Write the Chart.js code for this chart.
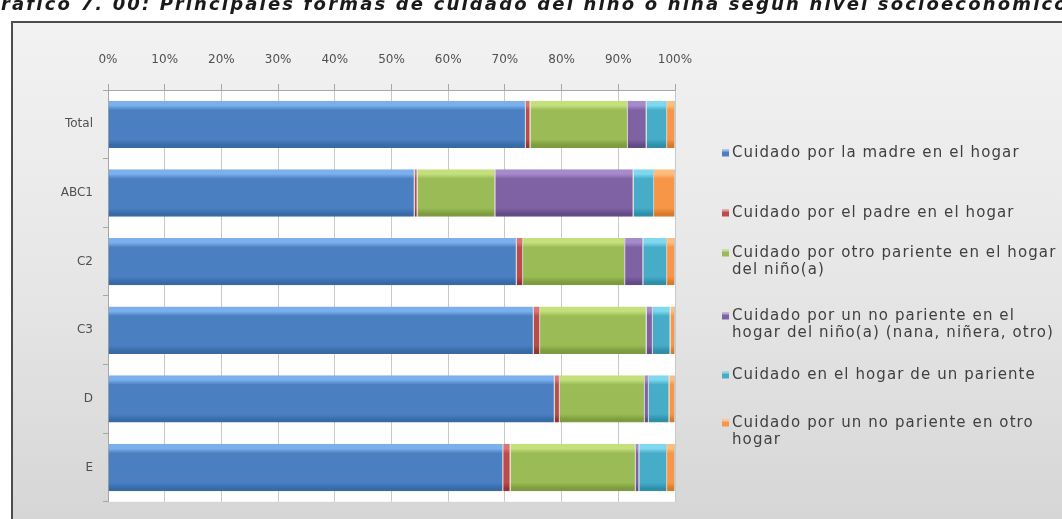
<!DOCTYPE html>
<html lang="es">
<head>
<meta charset="utf-8">
<title>Formas de cuidado del niño o niña según NSE</title>
<script src="https://cdn.jsdelivr.net/npm/chart.js@4/dist/chart.umd.min.js"></script>
<style>
  html, body { margin: 0; padding: 0; background: #ffffff; overflow: hidden; }
  #wrap { width: 1062px; height: 519px; position: relative; }
  canvas { display: block; }
</style>
</head>
<body>
<div id="wrap"><canvas id="chart" width="1062" height="519"></canvas></div>
<script>
// Categorías (nivel socioeconómico)
const categories = ['Total', 'ABC1', 'C2', 'C3', 'D', 'E'];

// Porcentaje de cada forma de cuidado por grupo
const madreHogar      = [73.7, 54.1, 72.1, 75.1, 78.8, 69.7];
const padreHogar      = [0.8, 0.5, 1.1, 1.1, 0.9, 1.3];
const otroPariente    = [17.2, 13.7, 18.0, 18.8, 15.0, 22.1];
const noParienteHogar = [3.3, 24.4, 3.2, 1.1, 0.7, 0.6];
const hogarPariente   = [3.6, 3.6, 4.2, 3.1, 3.6, 4.9];
const noParienteOtro  = [1.4, 3.7, 1.4, 0.8, 1.0, 1.4];

// Etiquetas de la leyenda (con sus saltos de línea)
const seriesLabels = [
  ['Cuidado por la madre en el hogar'],
  ['Cuidado por el padre en el hogar'],
  ['Cuidado por otro pariente en el hogar', 'del niño(a)'],
  ['Cuidado por un no pariente en el', 'hogar del niño(a) (nana, niñera, otro)'],
  ['Cuidado en el hogar de un pariente'],
  ['Cuidado por un no pariente en otro', 'hogar']
];

// Eje de porcentajes
const tickValues = [0, 10, 20, 30, 40, 50, 60, 70, 80, 90, 100];

const chartTitle = 'Gráfico 7. 00: Principales formas de cuidado del niño o niña según nivel socioeconómico';

// Paleta: [claro, base, oscuro]
const palette = [
  ['#7cb0ec', '#4a80c2', '#386aa6'],
  ['#db7572', '#be4b48', '#973431'],
  ['#c4e07c', '#9abb55', '#7d9c3f'],
  ['#a68bca', '#7f62a3', '#654a88'],
  ['#7fd8ee', '#47acc8', '#2f8fa9'],
  ['#fdbd7b', '#f79646', '#d77a2a']
];

const BAR_FRACTION = 0.69;

function bevelFill(idx) {
  return (ctx) => {
    const [light, base, dark] = palette[idx];
    const chart = ctx.chart;
    const y = chart.scales && chart.scales.y;
    if (!y || ctx.type !== 'data') return base;
    const c = y.getPixelForValue(ctx.dataIndex);
    const step = (y.bottom - y.top) / categories.length;
    const h = step * BAR_FRACTION;
    if (!isFinite(c) || !isFinite(h) || h <= 0) return base;
    const g = chart.ctx.createLinearGradient(0, c - h / 2, 0, c + h / 2);
    g.addColorStop(0, light);
    g.addColorStop(0.1, light);
    g.addColorStop(0.2, base);
    g.addColorStop(0.82, base);
    g.addColorStop(0.94, dark);
    g.addColorStop(1, dark);
    return g;
  };
}

const seriesValues = [madreHogar, padreHogar, otroPariente, noParienteHogar, hogarPariente, noParienteOtro];

const datasets = seriesValues.map((vals, i) => ({
  label: seriesLabels[i].join(' '),
  data: vals,
  backgroundColor: bevelFill(i),
  borderColor: 'rgba(40,40,40,0.25)',
  borderWidth: { left: 0, right: 1, top: 0, bottom: 0 },
  borderSkipped: false,
  categoryPercentage: 1.0,
  barPercentage: BAR_FRACTION,
  stack: 'nse'
}));

// Marco, fondo degradado y título
const framePlugin = {
  id: 'frame',
  beforeDraw(chart) {
    const ctx = chart.ctx;
    const W = chart.width, H = chart.height;
    ctx.save();
    ctx.fillStyle = '#ffffff';
    ctx.fillRect(0, 0, W, H);

    // título (cortado en el borde superior), espaciado para ocupar el ancho
    ctx.font = 'italic bold 18px "DejaVu Sans", Verdana, sans-serif';
    const visible = chartTitle.slice(1);
    const gW = ctx.measureText('G').width;
    const spacing = Math.max(0, (1066 - ctx.measureText(visible).width) / (visible.length - 1));
    if ('letterSpacing' in ctx) ctx.letterSpacing = spacing.toFixed(2) + 'px';
    ctx.fillStyle = '#1a1a1a';
    ctx.textBaseline = 'alphabetic';
    ctx.fillText(chartTitle, 1 - gW - spacing, 10);
    if ('letterSpacing' in ctx) ctx.letterSpacing = '0px';

    // sombra del marco
    const fx = 12, fy = 22;
    ctx.fillStyle = 'rgba(0,0,0,0.18)';
    ctx.fillRect(fx + 2, fy + 2, W, H);
    const grad = ctx.createLinearGradient(0, fy, 0, H);
    grad.addColorStop(0, '#f2f2f2');
    grad.addColorStop(0.5, '#e7e7e7');
    grad.addColorStop(1, '#d6d6d6');
    ctx.fillStyle = grad;
    ctx.fillRect(fx, fy, W, H);
    ctx.strokeStyle = '#4d4d4d';
    ctx.lineWidth = 2;
    ctx.strokeRect(fx, fy, W + 10, H + 10);

    // área de trazado blanca
    const a = chart.chartArea;
    ctx.fillStyle = '#ffffff';
    ctx.fillRect(a.left, a.top, a.right - a.left, a.bottom - a.top);
    ctx.restore();
  }
};

// Leyenda a la derecha con texto en varias líneas
const sideLegend = {
  id: 'sideLegend',
  afterDraw(chart, args, opts) {
    const ctx = chart.ctx;
    ctx.save();
    ctx.font = opts.font;
    if ('letterSpacing' in ctx) ctx.letterSpacing = opts.letterSpacing;
    ctx.textBaseline = 'middle';
    chart.data.datasets.forEach((ds, i) => {
      const y0 = opts.rows[i];
      const base = palette[i][1];
      // cuadro de color
      ctx.fillStyle = base;
      ctx.fillRect(opts.x, y0 - 3.5, 7, 7);
      ctx.fillStyle = 'rgba(255,255,255,0.45)';
      ctx.fillRect(opts.x, y0 - 3.5, 7, 2);
      ctx.fillStyle = opts.color;
      seriesLabels[i].forEach((line, k) => {
        ctx.fillText(line, opts.x + 10, y0 + k * opts.lineHeight);
      });
    });
    ctx.restore();
  }
};

new Chart(document.getElementById('chart'), {
  type: 'bar',
  data: { labels: categories, datasets },
  plugins: [framePlugin, sideLegend],
  options: {
    indexAxis: 'y',
    responsive: false,
    devicePixelRatio: 1,
    animation: false,
    layout: { padding: { left: 0, top: 0, right: 387, bottom: 10 } },
    plugins: {
      legend: { display: false },
      tooltip: { enabled: false },
      sideLegend: {
        x: 722,
        rows: [153, 213, 253, 316, 375, 423],
        lineHeight: 17,
        font: '15px "DejaVu Sans", Verdana, sans-serif',
        letterSpacing: '1.1px',
        color: '#404040'
      }
    },
    scales: {
      x: {
        position: 'top',
        stacked: true,
        min: 0,
        max: 100,
        afterBuildTicks(scale) { scale.ticks = tickValues.map(v => ({ value: v })); },
        afterFit(scale) { scale.height = 90; },
        ticks: {
          callback: (v) => v + '%',
          font: { family: '"DejaVu Sans", Verdana, sans-serif', size: 12 },
          color: '#505050',
          padding: 17,
          maxRotation: 0
        },
        grid: { color: '#c9c9c9', lineWidth: 1, tickLength: 6, tickColor: '#a6a6a6' },
        border: { color: '#a6a6a6', width: 1 }
      },
      y: {
        stacked: true,
        afterFit(scale) { scale.width = 108; },
        ticks: {
          font: { family: '"DejaVu Sans", Verdana, sans-serif', size: 12 },
          color: '#505050',
          padding: 10
        },
        grid: { display: true, drawOnChartArea: false, offset: true, tickLength: 5, color: '#a6a6a6' },
        border: { color: '#a6a6a6', width: 1 }
      }
    }
  }
});
</script>
</body>
</html>
